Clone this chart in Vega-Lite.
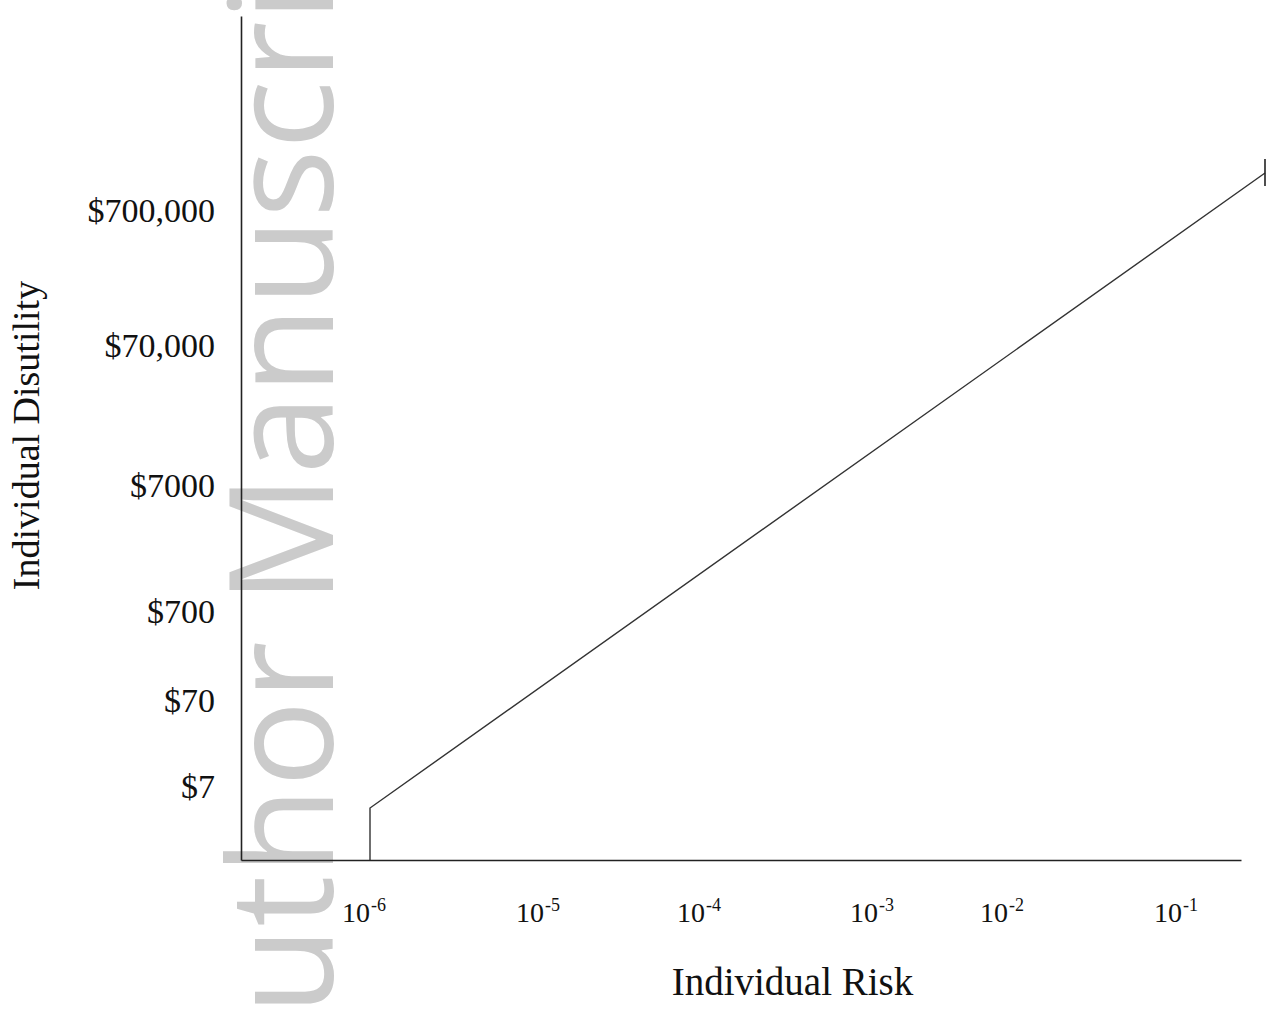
{
  "$schema": "https://vega.github.io/schema/vega-lite/v6.json",
  "autosize": {"type": "none"},
  "width": 1000,
  "height": 844,
  "padding": {"left": 241, "top": 16, "right": 31, "bottom": 151},
  "background": "white",
  "config": {"view": {"stroke": null}},
  "datasets": {
    "watermark": [{"wx": 92, "wy": -246, "text": "Author Manuscript"}],
    "curve": [
      {"order": 1, "risk_pos": 129, "disutility_pos": 0},
      {"order": 2, "risk_pos": 129, "disutility_pos": 52},
      {"order": 3, "risk_pos": 1024, "disutility_pos": 687}
    ],
    "endtick": [{"risk_pos": 1024, "lo": 674, "hi": 701}],
    "yticks": [
      {"pos": 638, "label": "$700,000"},
      {"pos": 503, "label": "$70,000"},
      {"pos": 363, "label": "$7000"},
      {"pos": 237, "label": "$700"},
      {"pos": 148, "label": "$70"},
      {"pos": 62, "label": "$7"}
    ],
    "xticks": [
      {"pos": 129, "base": "10", "exp": "-6"},
      {"pos": 303, "base": "10", "exp": "-5"},
      {"pos": 464, "base": "10", "exp": "-4"},
      {"pos": 637, "base": "10", "exp": "-3"},
      {"pos": 767, "base": "10", "exp": "-2"},
      {"pos": 941, "base": "10", "exp": "-1"}
    ]
  },
  "layer": [
    {
      "data": {"name": "watermark"},
      "mark": {"type": "text", "font": "Open Sans", "fontSize": 144, "angle": 270, "align": "left", "baseline": "alphabetic", "color": "#cbcbcb", "clip": false},
      "encoding": {
        "x": {"field": "wx", "type": "quantitative", "scale": {"domain": [0, 1000], "nice": false, "zero": false},
          "axis": {"domain": true, "domainColor": "#222222", "domainWidth": 1.6, "ticks": false, "labels": false, "grid": false, "zindex": 1,
            "title": "Individual Risk", "titleFont": "Liberation Serif", "titleFontSize": 39, "titleFontWeight": "normal", "titleColor": "#111111",
            "titleX": 551, "titleY": 134, "titleAlign": "center", "titleBaseline": "alphabetic"}},
        "y": {"field": "wy", "type": "quantitative", "scale": {"domain": [0, 844], "nice": false, "zero": false},
          "axis": {"domain": true, "domainColor": "#222222", "domainWidth": 1.6, "ticks": false, "labels": false, "grid": false, "zindex": 1,
            "title": "Individual Disutility", "titleFont": "Liberation Serif", "titleFontSize": 38, "titleFontWeight": "normal", "titleColor": "#111111",
            "titleAngle": 270, "titleX": -203, "titleY": 419, "titleAlign": "center", "titleBaseline": "alphabetic"}},
        "text": {"field": "text"}
      }
    },
    {
      "data": {"name": "curve"},
      "mark": {"type": "line", "color": "#333333", "strokeWidth": 1.4, "clip": false},
      "encoding": {
        "x": {"field": "risk_pos", "type": "quantitative"},
        "y": {"field": "disutility_pos", "type": "quantitative"},
        "order": {"field": "order"}
      }
    },
    {
      "data": {"name": "endtick"},
      "mark": {"type": "rule", "color": "#222222", "strokeWidth": 1.6, "clip": false},
      "encoding": {
        "x": {"field": "risk_pos", "type": "quantitative"},
        "y": {"field": "lo", "type": "quantitative"},
        "y2": {"field": "hi"}
      }
    },
    {
      "data": {"name": "yticks"},
      "mark": {"type": "text", "font": "Liberation Serif", "fontSize": 34, "align": "right", "baseline": "alphabetic", "color": "#111111", "dx": -26},
      "encoding": {
        "x": {"datum": 0, "type": "quantitative"},
        "y": {"field": "pos", "type": "quantitative"},
        "text": {"field": "label"}
      }
    },
    {
      "data": {"name": "xticks"},
      "mark": {"type": "text", "font": "Liberation Serif", "fontSize": 28, "align": "right", "baseline": "alphabetic", "color": "#111111", "dy": 62},
      "encoding": {
        "x": {"field": "pos", "type": "quantitative"},
        "y": {"datum": 0, "type": "quantitative"},
        "text": {"field": "base"}
      }
    },
    {
      "data": {"name": "xticks"},
      "mark": {"type": "text", "font": "Liberation Serif", "fontSize": 18, "align": "left", "baseline": "alphabetic", "color": "#111111", "dy": 51, "dx": 1},
      "encoding": {
        "x": {"field": "pos", "type": "quantitative"},
        "y": {"datum": 0, "type": "quantitative"},
        "text": {"field": "exp"}
      }
    }
  ]
}
